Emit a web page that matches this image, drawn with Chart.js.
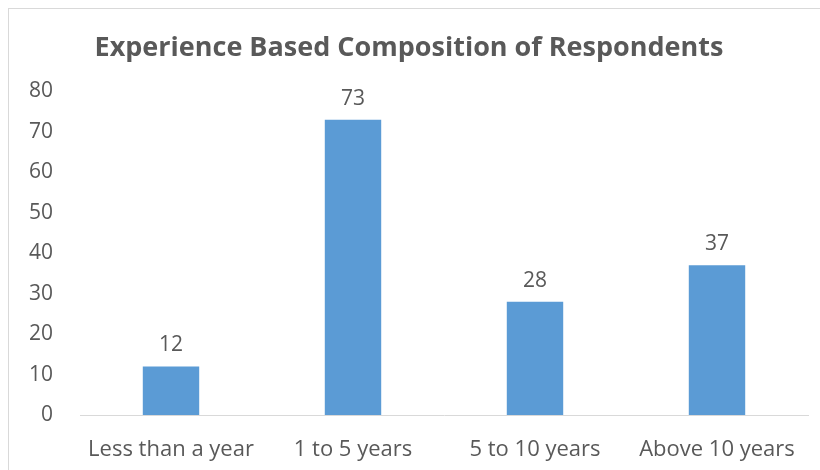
<!DOCTYPE html>
<html lang="en">
<head>
    <meta charset="UTF-8">
    <title>Experience Based Composition of Respondents</title>
    <style>
        html, body { margin: 0; padding: 0; background: #ffffff; }
        .frame {
            position: absolute;
            left: 0; top: 0;
            width: 820px; height: 470px;
            overflow: hidden;
        }
        .border {
            position: absolute;
            left: 8px; top: 8px;
            width: 830px; height: 480px;
            border: 1px solid #d9d9d9;
        }
        canvas { position: absolute; left: 0; top: 0; }
    </style>
</head>
<body>
    <div class="frame">
        <div class="border"></div>
        <canvas id="grafico" width="820" height="470"></canvas>
    </div>

    <script src="https://cdn.jsdelivr.net/npm/chart.js"></script>
    <script>
        const categorias = ['Less than a year', '1 to 5 years', '5 to 10 years', 'Above 10 years'];
        const respondentes = [12, 73, 28, 37];
        const yMin = 0, yMax = 80, yStep = 10;

        const textColor = '#595959';
        const fonte = '"Open Sans", Lato, sans-serif';

        // valores acima das barras
        const rotulos = {
            id: 'rotulos',
            afterDatasetsDraw(chart) {
                const ctx = chart.ctx;
                const meta = chart.getDatasetMeta(0);
                ctx.save();
                ctx.fillStyle = textColor;
                ctx.font = '21px ' + fonte;
                ctx.textAlign = 'center';
                ctx.textBaseline = 'middle';
                meta.data.forEach((bar, i) => {
                    ctx.fillText(chart.data.datasets[0].data[i], bar.x, bar.y - 21);
                });
                ctx.restore();
            }
        };

        new Chart(document.getElementById('grafico'), {
            type: 'bar',
            data: {
                labels: categorias,
                datasets: [{
                    data: respondentes,
                    backgroundColor: '#5b9bd5',
                    barPercentage: 0.62,
                    categoryPercentage: 0.5
                }]
            },
            options: {
                responsive: false,
                animation: false,
                layout: { padding: { left: 10, right: 12, top: 0, bottom: 0 } },
                plugins: {
                    legend: { display: false },
                    tooltip: { enabled: false },
                    title: {
                        display: true,
                        text: 'Experience Based Composition of Respondents',
                        color: textColor,
                        font: { family: fonte, size: 27, weight: 'bold' },
                        padding: { top: 32, bottom: 27 }
                    }
                },
                scales: {
                    y: {
                        min: yMin,
                        max: yMax,
                        ticks: { stepSize: yStep, color: textColor, padding: 27, font: { family: fonte, size: 21 } },
                        grid: { display: false, drawTicks: false },
                        border: { display: false },
                        afterFit: s => { s.width = 70; }
                    },
                    x: {
                        ticks: { color: textColor, padding: 22, font: { family: fonte, size: 22 } },
                        grid: { display: false, drawTicks: false },
                        border: { display: true, color: '#d9d9d9', width: 1 },
                        afterFit: s => { s.height = 55; }
                    }
                }
            },
            plugins: [rotulos]
        });
    </script>
</body>
</html>
